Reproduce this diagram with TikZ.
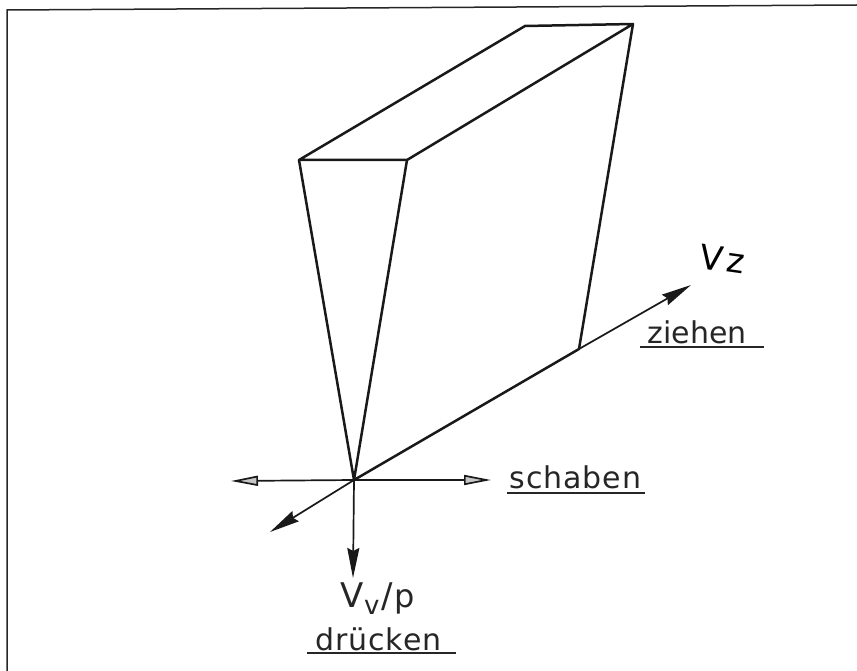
\documentclass[tikz,border=0pt]{standalone}
\usepackage{fontspec}
\setmainfont{DejaVu Sans}
\usetikzlibrary{arrows.meta}
\tikzset{
  edge/.style={line width=2.5pt,line cap=round,line join=round,black!90},
  axisline/.style={line width=1.7pt,black!90},
  openhead/.style={-{Triangle[length=27pt,width=10pt,open,fill=white!55!gray,line width=1.7pt]}},
  solidhead/.style={-{Stealth[length=30pt,width=12pt,inset=3pt]}},
  lbl/.style={inner sep=0pt,anchor=base,text=black!85},
  under/.style={line width=1.8pt,black!85},
  frameline/.style={line width=1.5pt,black!85}
}
\begin{document}
\begin{tikzpicture}[x=1pt,y=-1pt]
\useasboundingbox (0,0) rectangle (857,671);
\coordinate (ftl) at (7,10);
\coordinate (ftr) at (857,5);
\coordinate (fbl) at (7,671);
\draw[frameline] (ftr) -- (ftl) -- (fbl);
\coordinate (O) at (354,480);
\coordinate (A) at (299,160);
\coordinate (B) at (407,160);
\coordinate (C) at (525,26);
\coordinate (D) at (633,24);
\coordinate (E) at (579,349);
\coordinate (W) at (231,481);
\coordinate (R) at (491,480);
\coordinate (S) at (353,578);
\coordinate (SW) at (270,532);
\coordinate (Z) at (691,285);
\draw[edge] (A) -- (B) -- (D) -- (C) -- (A);
\draw[edge] (A) -- (O) -- (B);
\draw[edge] (D) -- (E) -- (O);
\draw[axisline,openhead] (O) -- (W);
\draw[axisline,openhead] (O) -- (R);
\draw[axisline,solidhead] (O) -- (S);
\draw[axisline,solidhead] (O) -- (SW);
\draw[axisline,solidhead] (E) -- (Z);
\node[lbl,font=\fontsize{30}{30}\selectfont\addfontfeature{LetterSpace=3}] (schaben) at (575.5,488) {schaben};
\coordinate (s1) at (507,493); \coordinate (s2) at (645,493);
\draw[under] (s1) -- (s2);
\node[lbl,font=\fontsize{30}{30}\selectfont] (ziehen) at (697,343) {ziehen};
\coordinate (z1) at (640,347); \coordinate (z2) at (764,347);
\draw[under] (z1) -- (z2);
\node[lbl,font=\fontsize{30}{30}\selectfont\addfontfeature{LetterSpace=3}] (druecken) at (378.5,650) {drücken};
\coordinate (d1) at (307,653); \coordinate (d2) at (456,653);
\draw[under] (d1) -- (d2);
\node[lbl,font=\fontsize{34}{34}\selectfont] (vp) at (378,607) {V\raisebox{-7pt}{\fontsize{26}{26}\selectfont v}\kern2pt/\kern2pt\fontsize{32}{32}\selectfont p};
\node[inner sep=0pt,rotate=-8,font=\fontsize{34}{34}\selectfont,text=black] (vz) at (723,259) {V\kern4pt z};
\end{tikzpicture}
\end{document}
